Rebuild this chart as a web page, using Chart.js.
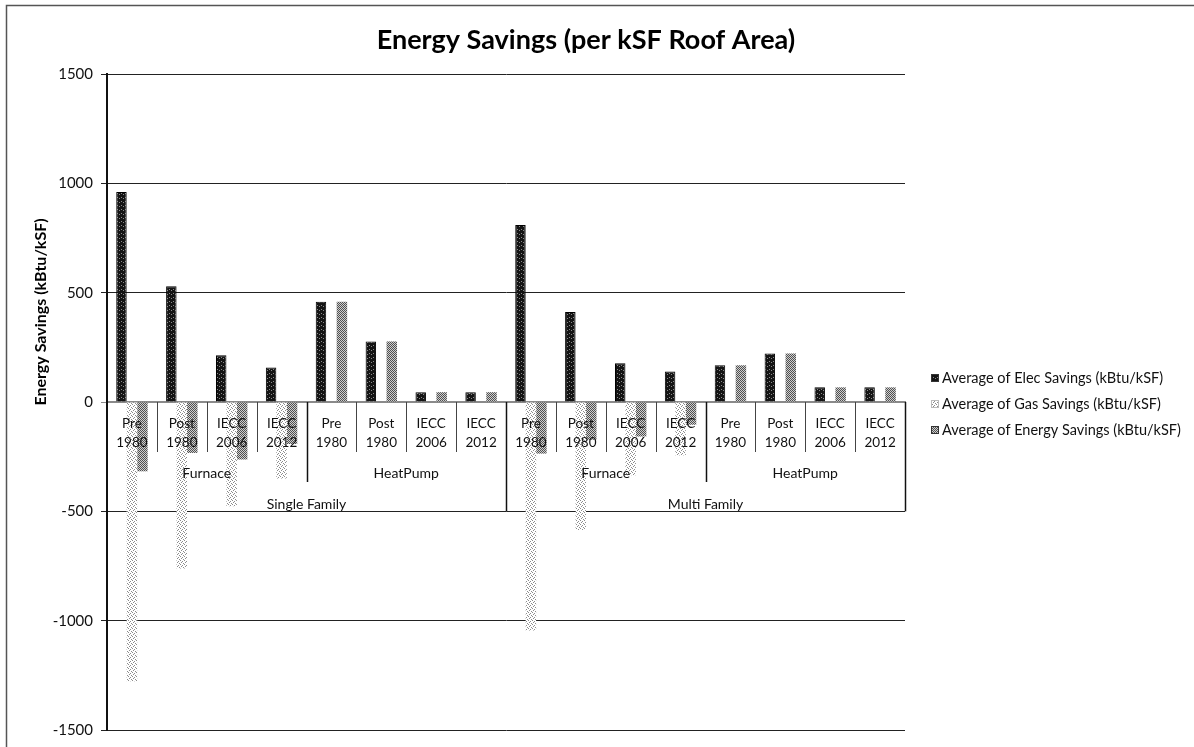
<!DOCTYPE html>
<html><head><meta charset="utf-8">
<script src="https://cdn.jsdelivr.net/npm/chart.js@4/dist/chart.umd.min.js"></script>
<style>html,body{margin:0;padding:0;background:#fff}</style>
</head><body>
<canvas id="c" width="1194" height="747" style="display:block;width:1194px;height:747px"></canvas>
<script>
// ---- data ----
const categories = [
  ["Pre","1980"],["Post","1980"],["IECC","2006"],["IECC","2012"],
  ["Pre","1980"],["Post","1980"],["IECC","2006"],["IECC","2012"],
  ["Pre","1980"],["Post","1980"],["IECC","2006"],["IECC","2012"],
  ["Pre","1980"],["Post","1980"],["IECC","2006"],["IECC","2012"]
];
const systemGroups = ["Furnace","HeatPump","Furnace","HeatPump"];
const buildingGroups = ["Single Family","Multi Family"];
const elecSavings   = [960, 529, 214, 158, 458, 277, 45, 45, 809, 412, 177, 140, 168, 222, 67, 67];
const gasSavings    = [-1277, -762, -477, -350, 0, 0, 0, 0, -1045, -585, -335, -244, 0, 0, 0, 0];
const energySavings = [-317, -233, -263, -192, 458, 277, 45, 45, -236, -173, -158, -104, 168, 222, 67, 67];
const seriesNames = ["Average of Elec Savings (kBtu/kSF)","Average of Gas Savings (kBtu/kSF)","Average of Energy Savings (kBtu/kSF)"];
const yMin = -1500, yMax = 1500, yStep = 500;
const chartTitle = "Energy Savings (per kSF Roof Area)";
const yTitle = "Energy Savings (kBtu/kSF)";

// ---- patterns ----
function makePattern(size, bg, dots, dotColor){
  const c = document.createElement('canvas'); c.width = c.height = size;
  const g = c.getContext('2d'); g.fillStyle = bg; g.fillRect(0,0,size,size);
  g.fillStyle = dotColor; dots.forEach(([x,y]) => g.fillRect(x,y,1,1));
  return g.createPattern(c,'repeat');
}
const ctx = document.getElementById('c').getContext('2d');
const elecFill = makePattern(4,'#141414',[[1,1],[3,2]],'#8a8a8a');
const gasFill = makePattern(4,'#ffffff',[[0,0],[2,1],[1,2],[3,3]],'#8c8c8c');
const energyFill = makePattern(2,'#cfcfcf',[[0,0],[1,1]],'#505050');
const fills = [elecFill, gasFill, energyFill];

const FONT = 'Lato, "Open Sans", sans-serif';

const decor = {
  id: 'decor',
  afterDraw(chart){
    const g = chart.ctx, xs = chart.scales.x, ys = chart.scales.y;
    const y0 = ys.getPixelForValue(0);
    const step = xs.getPixelForValue(1) - xs.getPixelForValue(0);
    const edge = i => xs.getPixelForValue(i) - step/2;
    g.save();
    // frame
    g.strokeStyle = '#555'; g.lineWidth = 1.5;
    g.beginPath(); g.moveTo(6.5, 747); g.lineTo(6.5, 5.5); g.lineTo(1194, 5.5); g.stroke();
    // separators
    const n = categories.length;
    const bottom3 = ys.getPixelForValue(-500);
    for (let i = 1; i <= n; i++){
      const x = Math.round(edge(i)) + 0.5;
      let yEnd;
      if (i % 8 === 0) yEnd = bottom3;
      else if (i % 4 === 0) yEnd = y0 + 80;
      else yEnd = y0 + 50;
      g.strokeStyle = (i % 4 === 0) ? '#111' : '#444';
      g.lineWidth = (i % 4 === 0) ? 1.5 : 1;
      g.beginPath(); g.moveTo(x, y0); g.lineTo(x, yEnd); g.stroke();
    }
    // group labels
    g.fillStyle = '#111'; g.font = '14px ' + FONT; g.textAlign = 'center'; g.textBaseline = 'middle';
    systemGroups.forEach((t, k) => {
      const cx = (edge(k*4) + edge(k*4+4)) / 2;
      g.fillText(t, cx, y0 + 71);
    });
    buildingGroups.forEach((t, k) => {
      const cx = (edge(k*8) + edge(k*8+8)) / 2;
      g.fillText(t, cx, y0 + 102);
    });
    // title
    g.font = 'bold 27px ' + FONT; g.fillStyle = '#000';
    g.fillText(chartTitle, 586, 40);
    // y title
    g.save(); g.translate(41, 312); g.rotate(-Math.PI/2);
    g.font = 'bold 16px ' + FONT; g.fillText(yTitle, 0, 0); g.restore();
    // legend
    const ly = [378, 404, 430];
    chart.data.datasets.forEach((ds, k) => {
      g.fillStyle = fills[k]; g.fillRect(931, ly[k]-4, 8, 8);
      g.strokeStyle = k === 1 ? '#bbb' : '#333'; g.lineWidth = 1; g.strokeRect(931.5, ly[k]-3.5, 7, 7);
      g.fillStyle = '#111'; g.font = '14.5px ' + FONT; g.textAlign = 'left';
      g.fillText(ds.label, 942, ly[k]);
    });
    g.restore();
  }
};

new Chart(ctx, {
  type: 'bar',
  data: {
    labels: categories,
    datasets: [
      { label: seriesNames[0], data: elecSavings, backgroundColor: elecFill, borderColor: '#000', borderWidth: 1 },
      { label: seriesNames[1], data: gasSavings, backgroundColor: gasFill, borderWidth: 0 },
      { label: seriesNames[2], data: energySavings, backgroundColor: energyFill, borderWidth: 0 }
    ]
  },
  options: {
    responsive: false,
    animation: false,
    devicePixelRatio: 1,
    layout: { padding: { left: 0, right: 289, top: 74, bottom: 14 } },
    datasets: { bar: { categoryPercentage: 0.63, barPercentage: 1.0 } },
    plugins: { legend: { display: false }, title: { display: false }, tooltip: { enabled: false } },
    scales: {
      x: {
        position: { y: 0 },
        afterFit: s => { s.height = 0; },
        grid: { display: true, drawOnChartArea: false, drawTicks: false, color: 'rgba(0,0,0,0)' },
        border: { display: true, color: '#8a8a8a', width: 2 },
        ticks: { z: 1, maxRotation: 0, autoSkip: false, padding: 13, color: '#111',
                 font: { family: FONT, size: 13.5, lineHeight: 1.35 } }
      },
      y: {
        min: yMin, max: yMax,
        afterFit: s => { s.width = 107; },
        grid: { color: c => c.tick && c.tick.value === 0 ? '#8a8a8a' : '#222', lineWidth: 1, tickLength: 6, drawTicks: true },
        border: { display: true, color: '#111', width: 2 },
        ticks: { stepSize: yStep, padding: 8, color: '#111', font: { family: FONT, size: 15 },
                 callback: v => String(v) }
      }
    }
  },
  plugins: [decor]
});
</script>
</body></html>
